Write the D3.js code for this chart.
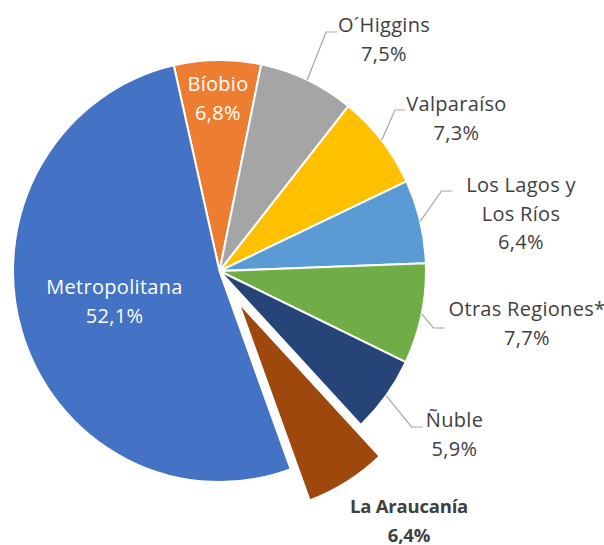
<!DOCTYPE html>
<html>
<head>
<meta charset="utf-8">
<script src="https://cdn.jsdelivr.net/npm/d3@7"></script>
<style>
  body { margin: 0; background: #fff; }
  text { font-family: "Open Sans", "Noto Sans", sans-serif; }
</style>
</head>
<body>
<svg id="chart" width="604" height="545"></svg>
<script>
// data, in pie order (clockwise from the top)
const regions = ["Bíobio", "O´Higgins", "Valparaíso", "Los Lagos y Los Ríos", "Otras Regiones*", "Ñuble", "La Araucanía", "Metropolitana"];
const labelLines = [["Bíobio"], ["O´Higgins"], ["Valparaíso"], ["Los Lagos y", "Los Ríos"], ["Otras Regiones*"], ["Ñuble"], ["La Araucanía"], ["Metropolitana"]];
const shares = [6.8, 7.5, 7.3, 6.4, 7.7, 5.9, 6.4, 52.1];
const colors = ["#ED7D31", "#A5A5A5", "#FFC000", "#5B9BD5", "#70AD47", "#264478", "#9E480E", "#4472C4"];
const explodedRegion = "La Araucanía";

// label layout (where excel put the data labels)
const labelAt = [[218, 91], [384, 32], [456.5, 111], [521, 192], [527, 316], [454.5, 427], [409, 513], [114.5, 294]];
const labelKind = ["in", "out", "out", "out", "out", "out", "bold", "in"];
const leaderTo = [null, [326, 32, 337], [395, 110, 405], [441.5, 191, 452.5], [433.5, 328, 445], [411.5, 427, 422.5], null, null];

const cx = 219.5, cy = 271, r = 206.5, sy = 1.022, explode = 36, lineH = 28.5;
const startAngle = -12.8 * Math.PI / 180;

const esCL = d3.formatLocale({decimal: ",", thousands: ".", grouping: [3], currency: ["$", ""]});
const pct = v => esCL.format(".1f")(v) + "%";

const data = regions.map((name, i) => ({name: name, v: shares[i], color: colors[i], lines: labelLines[i]}));

const pie = d3.pie().sort(null).value(d => d.v)
  .startAngle(startAngle).endAngle(startAngle + 2 * Math.PI);
const arcs = pie(data);
const arc = d3.arc().innerRadius(0).outerRadius(r);

const svg = d3.select("#chart");
const g = svg.append("g").attr("transform", "translate(" + cx + "," + cy + ") scale(1," + sy + ")");

g.selectAll("path")
  .data(arcs)
  .enter().append("path")
    .attr("d", arc)
    .attr("transform", function(d) {
      if (d.data.name !== explodedRegion) return null;
      const m = (d.startAngle + d.endAngle) / 2;
      return "translate(" + (explode * Math.sin(m)) + "," + (-explode * Math.cos(m)) + ")";
    })
    .style("fill", d => d.data.color)
    .style("stroke", "#fff")
    .style("stroke-width", 2);

// leader lines: from the rim at the mid angle to the label
const leaders = svg.append("g");
arcs.forEach(function(d, i) {
  const to = leaderTo[i];
  if (!to) return;
  const m = (d.startAngle + d.endAngle) / 2;
  const x0 = cx + r * Math.sin(m), y0 = cy - r * Math.cos(m) * sy;
  leaders.append("polyline")
    .attr("points", [[x0, y0], [to[0], to[1]], [to[2], to[1]]].map(p => p.join(",")).join(" "))
    .style("fill", "none")
    .style("stroke", "#A6A6A6")
    .style("stroke-width", 1.2);
});

// data labels
const labels = svg.append("g").selectAll("text")
  .data(arcs)
  .enter().append("text")
    .attr("x", (d, i) => labelAt[i][0])
    .attr("y", (d, i) => labelAt[i][1])
    .attr("text-anchor", "middle")
    .style("font-size", (d, i) => labelKind[i] === "bold" ? "18.5px" : "20px")
    .style("font-weight", (d, i) => labelKind[i] === "bold" ? 700 : 400)
    .style("letter-spacing", (d, i) => labelKind[i] === "bold" ? "-0.2px" : "0.3px")
    .style("fill", (d, i) => labelKind[i] === "in" ? "#fff" : "#404040");

labels.each(function(d, i) {
  const t = d3.select(this);
  const lines = d.data.lines.concat([pct(d.data.v)]);
  lines.forEach(function(s, k) {
    t.append("tspan")
      .attr("x", labelAt[i][0])
      .attr("dy", k === 0 ? 0 : lineH)
      .text(s);
  });
});
</script>
</body>
</html>
